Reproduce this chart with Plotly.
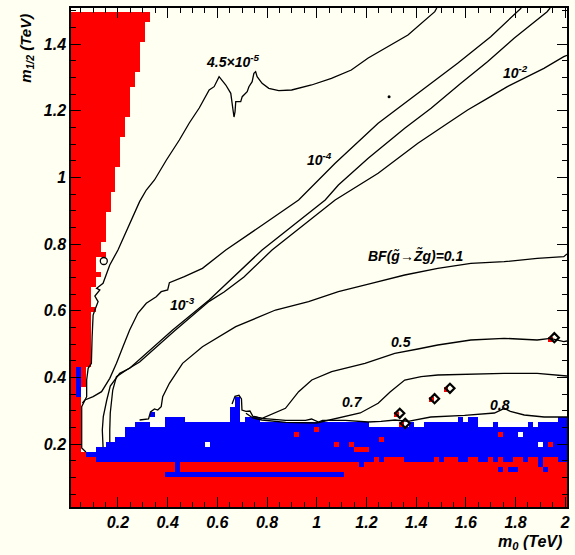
import numpy as np
import plotly.graph_objects as go

# ---------------- scan grid (cell edges in TeV) ----------------
M0_STEP, MH_STEP = 0.02, 0.015
m0_edges = np.round(0.01 + M0_STEP * np.arange(101), 4)
mh_edges = np.round(0.01 + MH_STEP * np.arange(101), 4)

# ---------------- theoretically excluded region (red) ----------------
# low-m1/2 band covering all m0
excl_band_top = 0.145
# small-m0 strip: lower m1/2 of each step and its m0 reach (step ends at next one)
excl_strip_mh = [0.145, 0.16, 0.175, 0.37, 0.43, 0.595, 0.61, 0.67, 0.70, 0.715,
                 0.76, 0.775, 0.805, 0.895, 0.955, 1.03, 1.12, 1.18, 1.27, 1.315,
                 1.405, 1.465]
excl_strip_m0 = [0.11, 0.07, 0.05, 0.07, 0.09, 0.11, 0.09, 0.11, 0.13, 0.11,
                 0.15, 0.13, 0.15, 0.17, 0.19, 0.21, 0.23, 0.25, 0.27, 0.29,
                 0.31, 0.33]
excl_strip_top = 1.495
# isolated excluded scan points (cell centres)
excl_pts_m0 = [0.92, 1.00, 1.34, 1.74, 1.26, 1.08, 1.14, 1.16, 1.18, 1.20, 1.94,
               1.24, 1.28, 1.30, 1.32, 1.34, 1.48, 1.52, 1.54, 1.56, 1.62, 1.64,
               1.70, 1.74, 1.80, 1.82, 1.86, 1.88, 1.92, 1.94, 1.96,
               1.32, 1.46, 1.52, 1.94]
excl_pts_mh = [0.2275, 0.2425, 0.2575, 0.2275, 0.2125, 0.1975, 0.1975, 0.1825,
               0.1825, 0.1825, 0.1975,
               0.1525, 0.1525, 0.1525, 0.1525, 0.1525, 0.1525, 0.1525, 0.1525,
               0.1525, 0.1525, 0.1525, 0.1525, 0.1525, 0.1525, 0.1525, 0.1525,
               0.1525, 0.1525, 0.1525, 0.1525,
               0.2875, 0.3325, 0.3625, 0.5125]

# ---------------- LEP-excluded region (blue) ----------------
lep_m0_lo = [0.07, 0.11, 0.15, 0.19, 0.23, 0.27, 0.33, 0.39, 0.47, 0.65, 0.67, 0.69,
             0.71, 0.77, 1.21, 1.37, 1.39, 1.43, 1.57, 1.59, 1.61, 1.65, 1.71,
             1.73, 1.85, 1.87, 1.89, 1.97]
lep_m0_hi = [0.11, 0.15, 0.19, 0.23, 0.27, 0.33, 0.39, 0.47, 0.65, 0.67, 0.69, 0.71,
             0.77, 1.21, 1.37, 1.39, 1.43, 1.57, 1.59, 1.61, 1.65, 1.71, 1.73,
             1.85, 1.87, 1.89, 1.97, 2.01]
lep_mh_lo = [0.16] + [0.145] * 27
lep_mh_hi = [0.175, 0.19, 0.205, 0.22, 0.25, 0.265, 0.25, 0.28, 0.265, 0.31, 0.34,
             0.265, 0.28, 0.265, 0.25, 0.265, 0.25, 0.265, 0.28, 0.265, 0.28, 0.25,
             0.265, 0.25, 0.265, 0.25, 0.265, 0.28]
# extra blue patches: (m0 lo, m0 hi, m1/2 lo, m1/2 hi)
lep_patches = [(0.39, 1.11, 0.10, 0.115), (0.43, 0.45, 0.115, 0.145),
               (0.33, 0.35, 0.28, 0.295), (0.03, 0.05, 0.34, 0.43)]
lep_pts_m0 = [1.18, 1.90, 1.74, 1.78, 1.80, 1.92]
lep_pts_mh = [0.1375, 0.1375, 0.1225, 0.1225, 0.1225, 0.1225]

# scan points with no solution (white)
void_pts_m0 = [0.56, 1.82, 1.90, 0.34, 0.36, 1.22, 1.24, 1.26, 1.28, 1.30, 1.32,
               1.36, 1.40, 1.42, 1.66, 1.68, 1.70, 1.74, 1.76, 1.78, 1.80, 1.82,
               1.84, 1.88]
void_pts_mh = [0.1975, 0.2275, 0.1975] + [0.2575] * 21

# ---------------- BF(gluino -> Z~ g) contours [m0, m1/2] ----------------
bf_45e6 = [(1.483, 1.508), (1.475, 1.497), (1.367, 1.427), (1.299, 1.397), (1.207, 1.358),
           (1.139, 1.322), (1.059, 1.297), (0.979, 1.277), (0.899, 1.262), (0.847, 1.260),
           (0.807, 1.267), (0.780, 1.282), (0.760, 1.302), (0.754, 1.317), (0.747, 1.312),
           (0.740, 1.287), (0.727, 1.272), (0.720, 1.257), (0.700, 1.242), (0.694, 1.227),
           (0.674, 1.227), (0.671, 1.196), (0.667, 1.181), (0.663, 1.202), (0.659, 1.223),
           (0.654, 1.252), (0.634, 1.277), (0.607, 1.302), (0.587, 1.272), (0.567, 1.262),
           (0.527, 1.208), (0.487, 1.163), (0.447, 1.112), (0.395, 1.052), (0.347, 0.992),
           (0.314, 0.962), (0.287, 0.927), (0.260, 0.882), (0.227, 0.822), (0.200, 0.782),
           (0.167, 0.737), (0.140, 0.682), (0.114, 0.667), (0.127, 0.662), (0.107, 0.644),
           (0.120, 0.627), (0.107, 0.602), (0.100, 0.587), (0.096, 0.522), (0.093, 0.442),
           (0.080, 0.427), (0.074, 0.392), (0.074, 0.342), (0.054, 0.312), (0.054, 0.188),
           (0.071, 0.176)]
bf_1e4 = [(0.057, 0.323), (0.067, 0.332), (0.100, 0.342), (0.134, 0.357), (0.167, 0.397),
          (0.194, 0.442), (0.220, 0.492), (0.247, 0.542), (0.280, 0.592), (0.314, 0.622),
          (0.354, 0.642), (0.374, 0.657), (0.400, 0.662), (0.407, 0.684), (0.467, 0.702),
          (0.540, 0.727), (0.634, 0.782), (0.674, 0.802), (0.787, 0.860), (0.927, 0.932),
          (1.074, 1.042), (1.247, 1.162), (1.407, 1.252), (1.567, 1.342), (1.700, 1.422),
          (1.807, 1.497), (1.823, 1.508)]
bf_1e3 = [(1.939, 1.508), (1.927, 1.497), (1.794, 1.417), (1.687, 1.347), (1.580, 1.282),
          (1.460, 1.207), (1.354, 1.147), (1.207, 1.057), (1.087, 0.977), (1.034, 0.932),
          (0.780, 0.782), (0.567, 0.632), (0.420, 0.542), (0.247, 0.427), (0.207, 0.412),
          (0.169, 0.374), (0.155, 0.332), (0.141, 0.282), (0.137, 0.242), (0.140, 0.190)]
bf_1e2 = [(2.007, 1.366), (1.994, 1.362), (1.914, 1.327), (1.847, 1.302), (1.767, 1.272),
          (1.687, 1.237), (1.607, 1.202), (1.527, 1.162), (1.407, 1.102), (1.247, 1.012),
          (1.074, 0.932), (0.820, 0.782), (0.707, 0.701), (0.627, 0.656), (0.567, 0.628),
          (0.427, 0.539), (0.287, 0.446), (0.234, 0.422), (0.194, 0.402), (0.179, 0.362),
          (0.169, 0.293), (0.167, 0.242), (0.167, 0.205)]
bf_0p1 = [(0.287, 0.272), (0.323, 0.275), (0.331, 0.296), (0.347, 0.305), (0.360, 0.302),
          (0.374, 0.312), (0.380, 0.342), (0.407, 0.382), (0.460, 0.442), (0.540, 0.492),
          (0.674, 0.552), (0.834, 0.602), (0.967, 0.627), (1.087, 0.657), (1.220, 0.682),
          (1.354, 0.707), (1.487, 0.727), (1.620, 0.742), (1.754, 0.747), (1.887, 0.757),
          (1.994, 0.762), (2.007, 0.770)]
bf_0p5 = [(0.747, 0.283), (0.780, 0.277), (0.874, 0.307), (0.927, 0.357), (0.980, 0.392),
          (1.060, 0.417), (1.194, 0.442), (1.314, 0.472), (1.407, 0.485), (1.487, 0.497),
          (1.620, 0.512), (1.754, 0.517), (1.887, 0.512), (1.940, 0.517), (1.994, 0.507),
          (2.007, 0.509)]
bf_0p7 = [(0.715, 0.292), (0.743, 0.278), (0.779, 0.272), (0.875, 0.265), (0.999, 0.263),
          (1.087, 0.277), (1.175, 0.293), (1.247, 0.322), (1.295, 0.356), (1.354, 0.392),
          (1.420, 0.402), (1.487, 0.407), (1.620, 0.410), (1.754, 0.412), (1.887, 0.412),
          (1.954, 0.407), (2.007, 0.404)]
bf_0p8 = [(0.659, 0.320), (0.671, 0.343), (0.687, 0.346), (0.697, 0.335), (0.699, 0.302),
          (0.715, 0.298), (0.731, 0.299), (0.743, 0.283), (0.779, 0.277), (0.875, 0.271),
          (0.955, 0.271), (0.979, 0.275), (1.007, 0.266), (1.023, 0.271), (1.115, 0.271),
          (1.207, 0.266), (1.259, 0.268), (1.315, 0.272), (1.367, 0.268), (1.459, 0.281),
          (1.595, 0.286), (1.687, 0.290), (1.715, 0.293), (1.755, 0.307), (1.779, 0.298),
          (1.835, 0.287), (1.915, 0.281), (2.007, 0.281)]
contours = [bf_45e6, bf_1e4, bf_1e3, bf_1e2, bf_0p1, bf_0p5, bf_0p7, bf_0p8]

# small closed contour island and an isolated point
island_m0, island_mh = [0.143], [0.749]
speck_m0, speck_mh = [1.291], [1.242]
# benchmark points
bench_m0 = [1.956, 1.536, 1.474, 1.334, 1.356]
bench_mh = [0.519, 0.367, 0.336, 0.292, 0.262]

# contour labels: text, m0, m1/2
clabels = [("4.5\u00d710<sup>-5</sup>", 0.659, 1.349),
           ("10<sup>-4</sup>", 1.011, 1.055),
           ("10<sup>-2</sup>", 1.799, 1.316),
           ("10<sup>-3</sup>", 0.459, 0.620),
           ("BF(g\u0303\u2192Z\u0303g)=0.1", 1.399, 0.767),
           ("0.5", 1.339, 0.506),
           ("0.7", 1.143, 0.326),
           ("0.8", 1.739, 0.317)]

x_ticks = [0.2, 0.4, 0.6, 0.8, 1.0, 1.2, 1.4, 1.6, 1.8, 2.0]
x_ticktext = ["0.2", "0.4", "0.6", "0.8", "1", "1.2", "1.4", "1.6", "1.8", "2"]
y_ticks = [0.2, 0.4, 0.6, 0.8, 1.0, 1.2, 1.4]
y_ticktext = ["0.2", "0.4", "0.6", "0.8", "1", "1.2", "1.4"]

# ---------------- build region map ----------------
xc = (m0_edges[:-1] + m0_edges[1:]) / 2
yc = (mh_edges[:-1] + mh_edges[1:]) / 2
X, Y = np.meshgrid(xc, yc)
z = np.full(X.shape, np.nan)
z[Y < excl_band_top] = 0
for i, lo in enumerate(excl_strip_mh):
    hi = excl_strip_mh[i + 1] if i + 1 < len(excl_strip_mh) else excl_strip_top
    z[(Y >= lo) & (Y < hi) & (X < excl_strip_m0[i])] = 0
for x0, x1, y0, y1 in zip(lep_m0_lo, lep_m0_hi, lep_mh_lo, lep_mh_hi):
    z[(X >= x0) & (X < x1) & (Y >= y0) & (Y < y1)] = 1
for x0, x1, y0, y1 in lep_patches:
    z[(X >= x0) & (X < x1) & (Y >= y0) & (Y < y1)] = 1


def set_cell(xv, yv, val):
    k = int(np.argmin(np.abs(xc - xv)))
    j = int(np.argmin(np.abs(yc - yv)))
    z[j, k] = val


for xv, yv in zip(lep_pts_m0, lep_pts_mh):
    set_cell(xv, yv, 1)
for xv, yv in zip(void_pts_m0, void_pts_mh):
    set_cell(xv, yv, 2)
for xv, yv in zip(excl_pts_m0, excl_pts_mh):
    set_cell(xv, yv, 0)

RED, BLUE, WHITE = "#ff0000", "#0000ff", "#ffffff"
BG = "#fffff2"
FONT = "Liberation Sans, Arial, Helvetica, sans-serif"

fig = go.Figure()
fig.add_trace(go.Heatmap(x=m0_edges, y=mh_edges, z=z, zmin=0, zmax=2,
                         colorscale=[[0, RED], [0.25, RED], [0.25, BLUE], [0.75, BLUE],
                                     [0.75, WHITE], [1, WHITE]],
                         showscale=False, hoverinfo="skip"))

for c in contours:
    fig.add_trace(go.Scatter(x=[p[0] for p in c], y=[p[1] for p in c], mode="lines",
                             line=dict(color="black", width=1.3), hoverinfo="skip"))

fig.add_trace(go.Scatter(x=island_m0, y=island_mh, mode="markers",
                         marker=dict(symbol="circle-open", size=7, color="black",
                                     line=dict(width=1.3)), hoverinfo="skip"))
fig.add_trace(go.Scatter(x=speck_m0, y=speck_mh, mode="markers",
                         marker=dict(symbol="circle", size=3, color="black"),
                         hoverinfo="skip"))
fig.add_trace(go.Scatter(x=bench_m0, y=bench_mh, mode="markers",
                         marker=dict(symbol="diamond-open", size=7, color="black",
                                     line=dict(width=2.2)), hoverinfo="skip"))

for txt, xv, yv in clabels:
    fig.add_annotation(x=xv, y=yv, text=txt, showarrow=False,
                       font=dict(family=FONT, size=14, color="black",
                                 weight="bold", style="italic"))

fig.add_annotation(xref="paper", yref="paper", x=-0.09, y=0.992, text="m<sub>1/2</sub> (TeV)",
                   textangle=-90, showarrow=False, xanchor="center", yanchor="top",
                   font=dict(family=FONT, size=15, color="black", weight="bold", style="italic"))
fig.add_annotation(xref="paper", yref="paper", x=0.994, y=-0.072, text="m<sub>0</sub> (TeV)",
                   showarrow=False, xanchor="right", yanchor="middle",
                   font=dict(family=FONT, size=16, color="black", weight="bold", style="italic"))

axis_common = dict(showline=True, linecolor="black", linewidth=1.5, mirror="ticks",
                   ticks="inside", ticklen=10, tickwidth=1.3, tickcolor="black",
                   showgrid=False, zeroline=False,
                   tickfont=dict(family=FONT, size=16, color="black",
                                 weight="bold", style="italic"),
                   minor=dict(ticks="inside", ticklen=5, tickwidth=1, tickcolor="black",
                              dtick=0.05, tick0=0, showgrid=False))

fig.update_xaxes(range=[0.011, 2.007], tickvals=x_ticks, ticktext=x_ticktext, **axis_common)
fig.update_yaxes(range=[0.011, 1.508], tickvals=y_ticks, ticktext=y_ticktext, **axis_common)

fig.update_layout(width=575, height=555, autosize=False,
                  margin=dict(l=71, r=5, t=8, b=48),
                  paper_bgcolor=BG, plot_bgcolor=BG, showlegend=False)

fig.write_html("out.html")
